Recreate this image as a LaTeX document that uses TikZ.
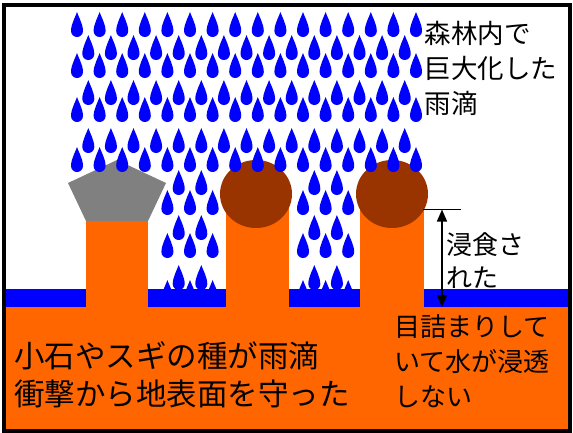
\documentclass[tikz,border=0pt]{standalone}
\usepackage{fontspec}
\newfontfamily\jpfont{Noto Sans CJK JP}
\usetikzlibrary{arrows.meta}

\definecolor{rainblue}{HTML}{0000FF}
\definecolor{soil}{HTML}{FF6600}
\definecolor{seed}{HTML}{993300}
\definecolor{pebble}{HTML}{808080}

\tikzset{
  raindrop/.pic={
    \fill[rainblue] (0,0) .. controls (1.2,4) and (6,12) .. (6,19)
      .. controls (6,22.3) and (3.3,25) .. (0,25)
      .. controls (-3.3,25) and (-6,22.3) .. (-6,19)
      .. controls (-6,12) and (-1.2,4) .. (0,0) -- cycle;
  },
  pillar/.style={fill=soil},
  label/.style={inner sep=0pt, anchor=north west, align=left, text=black},
  dimline/.style={line width=1.5pt, black},
}

\begin{document}
\begin{tikzpicture}[x=1pt, y=-1pt]
  \useasboundingbox (0,0) rectangle (573,432);
  \fill[white] (0,0) rectangle (573,432);

  % ground and surface water
  \fill[soil] (4,307) rectangle (570,431);
  \fill[rainblue] (4,289) rectangle (570,307);

  % soil columns left standing
  \fill[pillar] (86,221) rectangle (148,307);
  \fill[pillar] (226,200) rectangle (289,307);
  \fill[pillar] (360,200) rectangle (424,307);

  % protecting caps: pebble and cedar seeds
  \fill[pebble] (117,160) -- (166,183) -- (148,221) -- (86,221) -- (68,183) -- cycle;
  \fill[seed] (256,194) ellipse [x radius=36, y radius=34];
  \fill[seed] (392,194) ellipse [x radius=36, y radius=34];

  % falling rain
  \begin{scope}
    \clip (0,0) rectangle (573,289);
    \foreach \t in {12,53,97,147}
      \foreach \k in {0,...,15}
        \pic at ({77+22.6*\k},\t) {raindrop};
    \foreach \t in {35,80,128}
      \foreach \k in {0,...,14}
        \pic at ({88.3+22.6*\k},\t) {raindrop};
    \foreach \t in {190,233,280}
      \foreach \k in {4,5,6,10,11,12}
        \pic at ({77+22.6*\k},\t) {raindrop};
    \foreach \t in {170,215,265}
      \foreach \k in {4,5,10,11}
        \pic at ({88.3+22.6*\k},\t) {raindrop};
  \end{scope}

  % erosion depth marker
  \coordinate (tickL) at (423,209.5);
  \coordinate (tickR) at (461,209.5);
  \coordinate (depthTop) at (442,209.5);
  \coordinate (depthBot) at (442,307);
  \draw[dimline] (tickL) -- (tickR);
  \draw[dimline, {Triangle[length=12pt,width=10pt]}-{Triangle[length=12pt,width=10pt]}] (depthTop) -- (depthBot);

  % labels
  \node[label, font=\jpfont\fontsize{26.5}{35}\selectfont] (bigdrops) at (424.5,21)
    {森林内で\\巨大化した\\雨滴};
  \node[label, font=\jpfont\fontsize{26}{33}\selectfont] (eroded) at (446.5,232.5)
    {浸食さ\\れた};
  \node[label, font=\jpfont\fontsize{30.5}{38.5}\selectfont] (shield) at (14,341)
    {小石やスギの種が雨滴\\衝撃から地表面を守った};
  \node[label, font=\jpfont\fontsize{26}{35}\selectfont] (clogged) at (394.5,314.5)
    {目詰まりして\\いて水が浸透\\しない};

  % frame
  \draw[line width=3.8pt, black] (4.2,5.3) rectangle (570.3,431);
\end{tikzpicture}
\end{document}
